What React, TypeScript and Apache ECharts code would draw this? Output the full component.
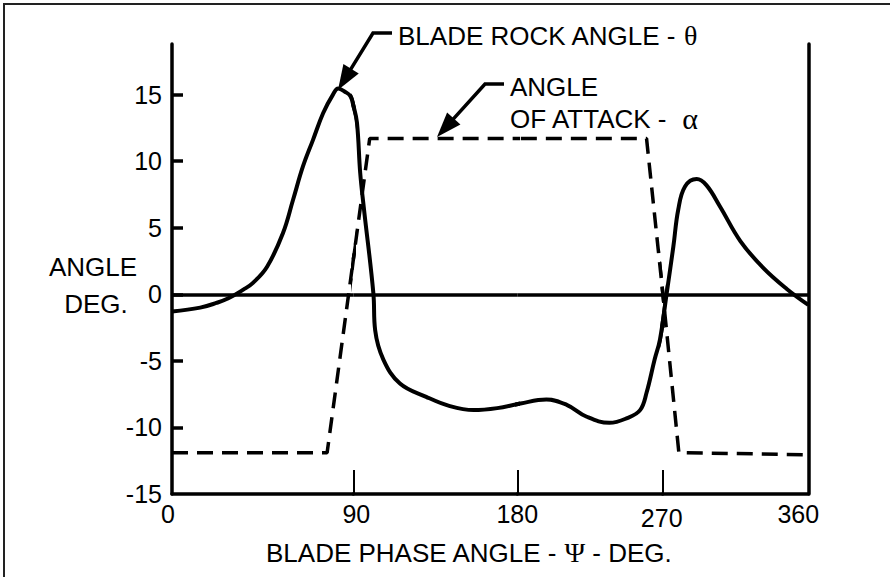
import React, { useEffect, useRef } from 'react';
import * as echarts from 'echarts';

// ---------- data ----------
const phaseBreaks = [0, 90, 180, 270, 360];
const xTickLabels = ['0', '90', '180', '270', '360'];
const yTickValues = [-15, -10, -5, 0, 5, 10, 15];
const yInnerTicks = [-10, -5, 0, 5, 10, 15];

// Blade rock angle θ (deg) vs blade phase angle Ψ (deg)
const thetaPhase = [0, 14, 22, 28, 35.4, 40.2, 47.2, 55.1, 60.1, 65, 70, 75, 79.9, 82.5, 86, 88.5, 90, 92, 93.8, 95.7, 101, 102, 106.5, 115.6, 130, 143, 156, 169, 182, 198, 210.6, 223, 237, 248, 256, 260, 265, 268.3, 272.5, 276.6, 279.6, 283.8, 291, 297, 305.4, 318, 332, 346.7, 360];
const thetaAngle = [-1.3, -1.0, -0.65, -0.3, 0.35, 0.86, 2.07, 4.6, 7.1, 9.6, 11.6, 13.6, 15.0, 15.45, 15.2, 14.9, 14.2, 12.9, 9.1, 6.6, 0.1, -2.7, -4.9, -6.7, -7.7, -8.4, -8.7, -8.55, -8.2, -7.9, -8.3, -9.2, -9.65, -9.3, -8.7, -7.4, -4.9, -3.4, 0.1, 3.6, 6.35, 8.1, 8.66, 8.2, 6.6, 4.0, 2.0, 0.4, -0.8];

// Angle of attack α (deg)
const alphaPhase = [0, 77, 90, 99, 260, 270, 280, 360];
const alphaAngle = [-11.9, -11.9, 2.6, 11.7, 11.7, 0.15, -11.9, -12.05];

// ---------- layout ----------
const W = 890;
const H = 577;
const segLeft = [172, 353.3, 517.3, 662.7];
const segWidth = [181.3, 164, 145.4, 145.6];
const gridTop = 44;
const gridHeight = 450;
const FONT = 'Liberation Sans';
const GREEK = 'Liberation Serif';

export default function App() {
  const ref = useRef<HTMLDivElement>(null);

  useEffect(() => {
    if (!ref.current) return;
    const chart = echarts.init(ref.current, undefined, { renderer: 'svg', width: W, height: H });

    const thetaData = thetaPhase.map((p, i) => [p, thetaAngle[i]]);
    const alphaData = alphaPhase.map((p, i) => [p, alphaAngle[i]]);

    const grids: any[] = [];
    const xAxes: any[] = [];
    const yAxes: any[] = [];
    const series: any[] = [];

    const labelRich: any = {
      p0: { fontSize: 25, fontFamily: FONT, color: '#000', padding: [0, 8, 0, 0] },
      p1: { fontSize: 25, fontFamily: FONT, color: '#000', padding: [0, 0, 0, 6] },
      p2: { fontSize: 25, fontFamily: FONT, color: '#000' },
      p3: { fontSize: 25, fontFamily: FONT, color: '#000', padding: [4, 2, 0, 0] },
      p4: { fontSize: 25, fontFamily: FONT, color: '#000', padding: [0, 20, 0, 0] },
    };

    for (let k = 0; k < 4; k++) {
      grids.push({ left: segLeft[k], width: segWidth[k], top: gridTop, height: gridHeight, containLabel: false });
      xAxes.push({
        type: 'value',
        gridIndex: k,
        min: phaseBreaks[k],
        max: phaseBreaks[k + 1],
        axisLine: { show: true, onZero: false, lineStyle: { color: '#000', width: 3.5 } },
        axisTick: {
          show: k > 0,
          inside: true,
          length: 24,
          lineStyle: { color: '#000', width: 2 },
          customValues: [phaseBreaks[k]],
        },
        axisLabel: {
          show: true,
          customValues: k === 3 ? [phaseBreaks[3], phaseBreaks[4]] : [phaseBreaks[k]],
          formatter: (v: number) => {
            const i = phaseBreaks.indexOf(v);
            return `{p${i}|${xTickLabels[i]}}`;
          },
          rich: labelRich,
          fontSize: 25,
          fontFamily: FONT,
          color: '#000',
          margin: 7,
        },
        splitLine: { show: false },
      });
      yAxes.push({
        type: 'value',
        gridIndex: k,
        min: -15,
        max: 18.8,
        show: k === 0 || k === 3,
        position: k === 3 ? 'right' : 'left',
        axisLine: { show: true, onZero: false, lineStyle: { color: '#000', width: 3.5 } },
        axisTick:
          k === 0
            ? { show: true, inside: true, length: 11, lineStyle: { color: '#000', width: 3.5 }, customValues: yInnerTicks }
            : { show: false },
        axisLabel:
          k === 0
            ? { show: true, customValues: yTickValues, fontSize: 25, fontFamily: FONT, color: '#000', margin: 10 }
            : { show: false },
        splitLine: { show: false },
      });
      series.push({
        type: 'line',
        name: 'θ',
        xAxisIndex: k,
        yAxisIndex: k,
        data: thetaData,
        symbol: 'none',
        showSymbol: false,
        smooth: 0.4,
        clip: true,
        silent: true,
        lineStyle: { color: '#000', width: 4, type: 'solid' },
        markLine: {
          silent: true,
          symbol: 'none',
          label: { show: false },
          lineStyle: { color: '#000', width: 3.5, type: 'solid' },
          data: [{ yAxis: 0 }],
        },
      });
      series.push({
        type: 'line',
        name: 'α',
        xAxisIndex: k,
        yAxisIndex: k,
        data: alphaData,
        symbol: 'none',
        showSymbol: false,
        smooth: false,
        clip: true,
        silent: true,
        lineStyle: { color: '#000', width: 3.5, type: [16, 9] },
      });
    }

    const arrowHead = (tip: number[], from: number[], len: number, half: number) => {
      const dx = tip[0] - from[0];
      const dy = tip[1] - from[1];
      const l = Math.hypot(dx, dy);
      const ux = dx / l;
      const uy = dy / l;
      const bx = tip[0] - ux * len;
      const by = tip[1] - uy * len;
      return [tip, [bx - uy * half, by + ux * half], [bx + uy * half, by - ux * half]];
    };

    const a1Tip = [338, 90];
    const a1Knee = [373, 33];
    const a2Tip = [437, 137];
    const a2Knee = [485, 84];

    const graphic: any[] = [
      {
        type: 'rect',
        silent: true,
        shape: { x: 4, y: 4, width: 900, height: 600 },
        style: { fill: 'none', stroke: '#222', lineWidth: 2 },
      },
      {
        type: 'polyline',
        silent: true,
        shape: { points: [[392, 33], a1Knee, [a1Tip[0] + (a1Knee[0] - a1Tip[0]) * 0.3, a1Tip[1] + (a1Knee[1] - a1Tip[1]) * 0.3]] },
        style: { stroke: '#000', lineWidth: 3.5, fill: 'none' },
      },
      {
        type: 'polygon',
        silent: true,
        shape: { points: arrowHead(a1Tip, a1Knee, 25, 9) },
        style: { fill: '#000' },
      },
      {
        type: 'polyline',
        silent: true,
        shape: { points: [[504, 84], a2Knee, [a2Tip[0] + (a2Knee[0] - a2Tip[0]) * 0.3, a2Tip[1] + (a2Knee[1] - a2Tip[1]) * 0.3]] },
        style: { stroke: '#000', lineWidth: 3.5, fill: 'none' },
      },
      {
        type: 'polygon',
        silent: true,
        shape: { points: arrowHead(a2Tip, a2Knee, 25, 9) },
        style: { fill: '#000' },
      },
      {
        type: 'text',
        silent: true,
        x: 398,
        y: 35.5,
        style: {
          text: 'BLADE ROCK ANGLE - {g|θ}',
          fontSize: 26,
          fontFamily: FONT,
          fill: '#000',
          align: 'left',
          verticalAlign: 'middle',
          rich: { g: { fontSize: 28, fontFamily: GREEK, fill: '#000' } },
        },
      },
      {
        type: 'text',
        silent: true,
        x: 510,
        y: 86.5,
        style: { text: 'ANGLE', fontSize: 26, fontFamily: FONT, fill: '#000', align: 'left', verticalAlign: 'middle' },
      },
      {
        type: 'text',
        silent: true,
        x: 510,
        y: 118.5,
        style: {
          text: 'OF ATTACK -  {g|α}',
          fontSize: 26,
          fontFamily: FONT,
          fill: '#000',
          align: 'left',
          verticalAlign: 'middle',
          rich: { g: { fontSize: 30, fontFamily: GREEK, fill: '#000' } },
        },
      },
      {
        type: 'text',
        silent: true,
        x: 93,
        y: 266.5,
        style: { text: 'ANGLE', fontSize: 26, fontFamily: FONT, fill: '#000', align: 'center', verticalAlign: 'middle' },
      },
      {
        type: 'text',
        silent: true,
        x: 96,
        y: 304,
        style: { text: 'DEG.', fontSize: 26, fontFamily: FONT, fill: '#000', align: 'center', verticalAlign: 'middle' },
      },
      {
        type: 'text',
        silent: true,
        x: 468.5,
        y: 552.5,
        style: {
          text: 'BLADE PHASE ANGLE - {g|Ψ} - DEG.',
          fontSize: 26,
          fontFamily: FONT,
          fill: '#000',
          align: 'center',
          verticalAlign: 'middle',
          rich: { g: { fontSize: 28, fontFamily: GREEK, fill: '#000' } },
        },
      },
    ];

    chart.setOption({
      animation: false,
      backgroundColor: '#fff',
      grid: grids,
      xAxis: xAxes,
      yAxis: yAxes,
      series,
      graphic,
    });

    return () => {
      chart.dispose();
    };
  }, []);

  return (
    <div
      ref={ref}
      style={{ position: 'fixed', left: 0, top: 0, width: W, height: H, background: '#fff' }}
    />
  );
}
